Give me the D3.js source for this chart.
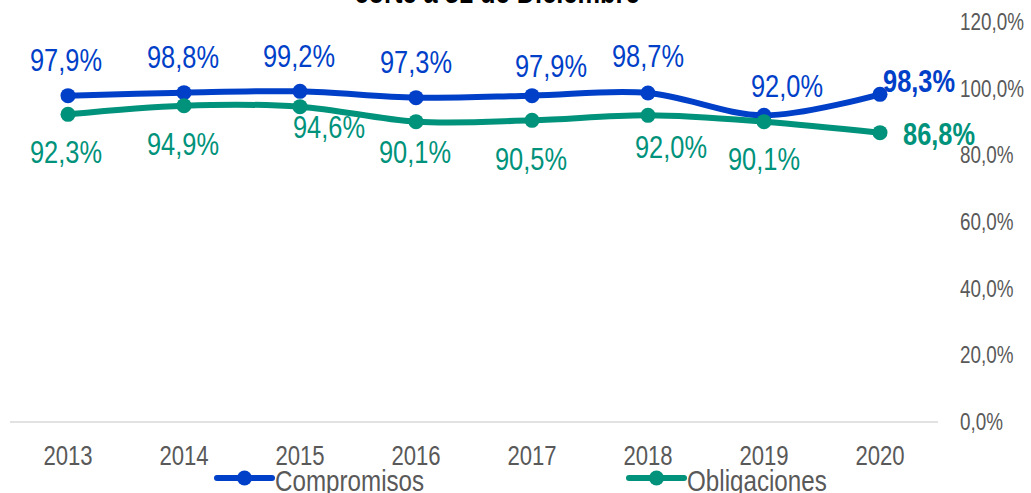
<!DOCTYPE html>
<html>
<head>
<meta charset="utf-8">
<script src="https://cdn.jsdelivr.net/npm/d3@7"></script>
<style>
  html, body { margin: 0; padding: 0; background: #fff; }
  svg { display: block; font-family: 'Liberation Sans', Arial, sans-serif; }
</style>
</head>
<body>
<div id="chart"></div>
<script>
const years = ['2013', '2014', '2015', '2016', '2017', '2018', '2019', '2020']
const compromisos = [97.9, 98.8, 99.2, 97.3, 97.9, 98.7, 92.0, 98.3]
const obligaciones = [92.3, 94.9, 94.6, 90.1, 90.5, 92.0, 90.1, 86.8]
const yTicks = [0, 20, 40, 60, 80, 100, 120]
const seriesNames = ['Compromisos', 'Obligaciones']

// label placement tweaks (dx, dy from the point), last one is drawn bold to the right
const blueOffsets = [[-2, -25], [-1, -25], [-1, -24], [0, -25], [19, -19], [0, -26], [23, -18], [3, -2]]
const greenOffsets = [[-2, 49], [-1, 49], [29, 31], [-1, 41], [-1, 50], [23, 43], [0, 48], [23, 12]]

const colors = ['#0040C8', '#00927A']
const width = 1031
const height = 493
const narrow = 0.82 // no Arial Narrow here, squeeze Liberation Sans instead
const fmt = v => d3.format('.1f')(v).replace('.', ',') + '%'
const place = (px, py) => 'translate(' + px + ',' + py + ') scale(' + narrow + ',1)'

const svg = d3.select('#chart').append('svg')
  .attr('width', width)
  .attr('height', height)

const x = d3.scaleBand().domain(years).range([10, 938])
const y = d3.scaleLinear().domain([0, 120]).range([422, 22])
const cx = d => x(d) + x.bandwidth() / 2

// title, mostly cut off at the top
svg.append('text')
  .attr('transform', place(497, 3))
  .attr('text-anchor', 'middle')
  .attr('font-weight', 'bold')
  .attr('font-size', 31)
  .attr('fill', '#000')
  .text('corte a 31 de Diciembre')

// baseline
svg.append('line')
  .attr('x1', 10).attr('x2', 938)
  .attr('y1', y(0)).attr('y2', y(0))
  .attr('stroke', '#d9d9d9')
  .attr('stroke-width', 1.5)

// right axis labels
svg.append('g').selectAll('text')
  .data(yTicks)
  .enter().append('text')
  .attr('transform', d => place(960, y(d) + 8))
  .attr('font-size', 23)
  .attr('fill', '#595959')
  .text(d => d3.format('.1f')(d).replace('.', ',') + '%')

// year labels
svg.append('g').selectAll('text')
  .data(years)
  .enter().append('text')
  .attr('transform', d => place(cx(d), 465))
  .attr('text-anchor', 'middle')
  .attr('font-size', 27)
  .attr('fill', '#595959')
  .text(d => d)

const line = d3.line()
  .x((d, i) => cx(years[i]))
  .y(d => y(d))
  .curve(d3.curveCatmullRom.alpha(0))

const series = [compromisos, obligaciones]
const offsets = [blueOffsets, greenOffsets]

series.forEach((vals, s) => {
  const g = svg.append('g')
  g.append('path')
    .datum(vals)
    .attr('d', line)
    .attr('fill', 'none')
    .attr('stroke', colors[s])
    .attr('stroke-width', 6)
    .attr('stroke-linecap', 'round')

  g.selectAll('circle')
    .data(vals)
    .enter().append('circle')
    .attr('cx', (d, i) => cx(years[i]))
    .attr('cy', d => y(d))
    .attr('r', 7.5)
    .attr('fill', colors[s])

  g.selectAll('text')
    .data(vals)
    .enter().append('text')
    .attr('transform', (d, i) => place(cx(years[i]) + offsets[s][i][0], y(d) + offsets[s][i][1]))
    .attr('text-anchor', (d, i) => i === vals.length - 1 ? 'start' : 'middle')
    .attr('font-weight', (d, i) => i === vals.length - 1 ? 'bold' : 'normal')
    .attr('font-size', 31)
    .attr('fill', colors[s])
    .text(d => fmt(d))
})

// legend
const legendX = [217, 629]
const legend = svg.append('g').selectAll('g')
  .data(seriesNames)
  .enter().append('g')
  .attr('transform', (d, i) => 'translate(' + legendX[i] + ',478)')

legend.append('line')
  .attr('x1', 0).attr('x2', 55)
  .attr('stroke', (d, i) => colors[i])
  .attr('stroke-width', 6)
  .attr('stroke-linecap', 'round')
legend.append('circle')
  .attr('cx', 27.5)
  .attr('r', 7.5)
  .attr('fill', (d, i) => colors[i])
legend.append('text')
  .attr('transform', place(58, 13))
  .attr('font-size', 29.5)
  .attr('fill', '#595959')
  .text(d => d)
</script>
</body>
</html>
